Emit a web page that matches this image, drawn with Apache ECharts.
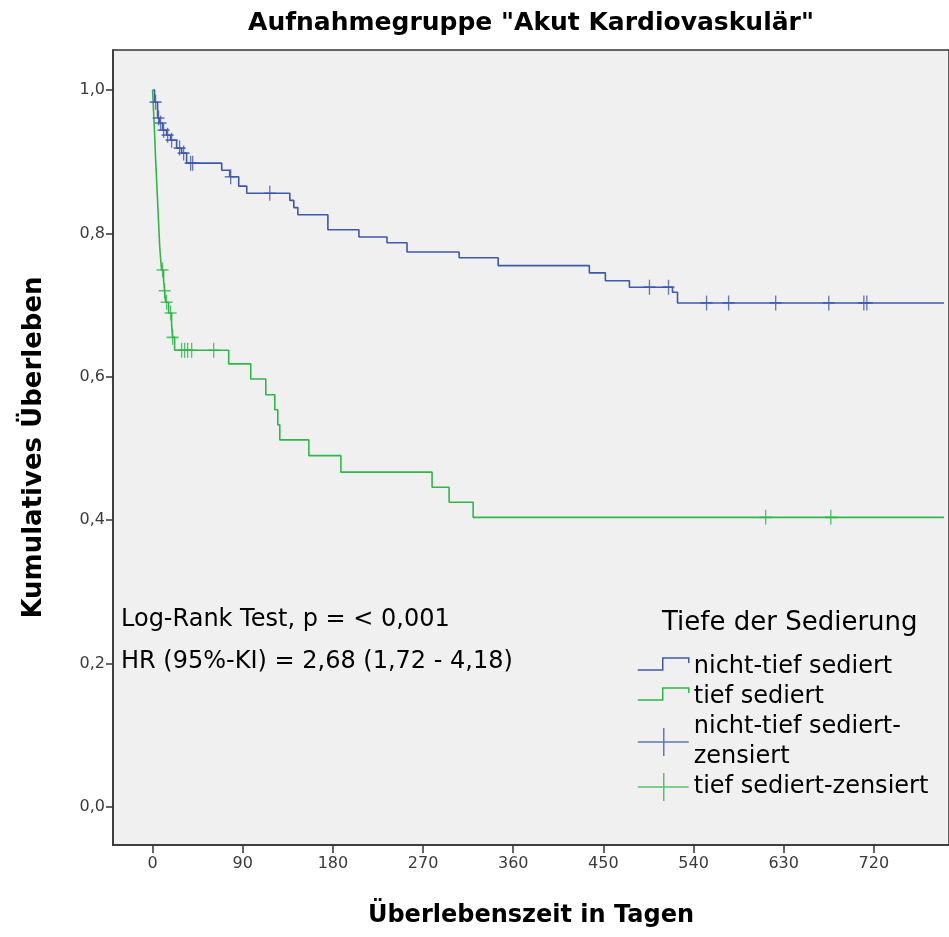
<!DOCTYPE html>
<html>
<head>
<meta charset="utf-8">
<script src="https://cdn.jsdelivr.net/npm/echarts@6/dist/echarts.min.js"></script>
<style>
html,body{margin:0;padding:0;background:#fff;}
#chart{width:949px;height:937px;}
</style>
</head>
<body>
<div id="chart"></div>
<script>
// ---- Data (days, cumulative survival) ----
const xTickLabels = [0, 90, 180, 270, 360, 450, 540, 630, 720];
const yTickLabels = [0, 0.2, 0.4, 0.6, 0.8, 1.0];

const blueSteps = [
  [0,1.0],[2,0.983],[5,0.961],[7,0.954],[10,0.944],[14,0.937],[18,0.930],[24,0.919],[29,0.912],[34,0.898],
  [69,0.888],[77,0.879],[86,0.866],[94,0.856],[137,0.846],[141,0.836],[145,0.826],[175,0.805],
  [206,0.795],[234,0.787],[254,0.774],[306,0.766],[345,0.755],[436,0.745],[452,0.734],[476,0.725],
  [519,0.718],[524,0.703],[790,0.703]
];
const blueCensored = [
  [3,0.983],[6,0.961],[8,0.954],[11,0.944],[15,0.937],[19,0.930],[27,0.919],[31,0.912],[38,0.898],[40,0.898],
  [78,0.879],[117,0.856],[496,0.725],[515,0.725],[553,0.703],[575,0.703],[622,0.703],[675,0.703],[710,0.703],[713,0.703]
];
const greenSteps = [
  [0,1.0],[1,0.97],[2,0.94],[3,0.905],[4,0.875],[5,0.845],[6,0.815],[7,0.785],[8,0.765],[9,0.749],
  [11,0.735],[12,0.72],[13,0.704],[16,0.689],[19,0.672],[20,0.655],[22,0.637],[76,0.618],[98,0.597],
  [113,0.575],[122,0.554],[125,0.533],[127,0.512],[156,0.490],[188,0.467],[279,0.446],[296,0.425],
  [320,0.404],[790,0.404]
];
const greenCensored = [
  [10,0.749],[12,0.720],[14,0.704],[18,0.689],[20,0.655],[29,0.637],[32,0.637],[35,0.637],[39,0.637],[61,0.637],
  [612,0.404],[677,0.404]
];

const seriesNames = ['nicht-tief sediert', 'tief sediert', 'nicht-tief sediert-\nzensiert', 'tief sediert-zensiert'];

const BLUE = '#3E58AC';
const GREEN = '#2EB848';
const AXIS = '#333333';
const FONT = "'DejaVu Sans', sans-serif";

const stepIcon = 'path://M0,0 M0,17 L25,17 L25,5 L51,5 L51,10 M51,28';
const plusIcon = 'path://M0,14 L51,14 M26,0 L26,28';
const plusSymbol = 'path://M0,6 L12,6 M6,0 L6,12';

const chart = echarts.init(document.getElementById('chart'));
chart.setOption({
  animation: false,
  backgroundColor: '#ffffff',
  grid: {
    left: 113, top: 50, width: 845, height: 795,
    show: true, backgroundColor: '#F0F0F0', borderColor: AXIS, borderWidth: 1.5,
    containLabel: false
  },
  xAxis: {
    type: 'value', min: -39.5, max: 795,
    name: 'Überlebenszeit in Tagen', nameLocation: 'middle', nameGap: 59,
    nameTextStyle: { fontFamily: FONT, fontWeight: 'bold', fontSize: 24, color: '#000' },
    axisLine: { show: true, onZero: false, lineStyle: { color: AXIS, width: 1.5 } },
    axisTick: { show: true, length: 8, lineStyle: { color: AXIS, width: 1.5 }, customValues: xTickLabels },
    axisLabel: { customValues: xTickLabels, margin: 11, fontFamily: FONT, fontSize: 16, color: '#3a3a3a' },
    splitLine: { show: false }
  },
  yAxis: {
    type: 'value', min: -0.053, max: 1.0558,
    name: 'Kumulatives Überleben', nameLocation: 'middle', nameGap: 66, nameRotate: 90,
    nameTextStyle: { fontFamily: FONT, fontWeight: 'bold', fontSize: 26, color: '#000' },
    axisLine: { show: true, onZero: false, lineStyle: { color: AXIS, width: 1.5 } },
    axisTick: { show: true, length: 7, lineStyle: { color: AXIS, width: 1.5 }, customValues: yTickLabels },
    axisLabel: {
      customValues: yTickLabels, margin: 8, fontFamily: FONT, fontSize: 16, color: '#3a3a3a',
      formatter: v => v.toFixed(1).replace('.', ',')
    },
    splitLine: { show: false }
  },
  legend: {
    orient: 'vertical', left: 637, top: 652, itemGap: 0, itemWidth: 51, itemHeight: 28,
    selectedMode: false, padding: 0,
    textStyle: { fontFamily: FONT, fontSize: 24, color: '#000', lineHeight: 30, padding: [0, 0, 0, 0] },
    data: [
      { name: seriesNames[0], icon: stepIcon, itemStyle: { color: 'rgba(0,0,0,0)', borderColor: BLUE, borderWidth: 1.5 } },
      { name: seriesNames[1], icon: stepIcon, itemStyle: { color: 'rgba(0,0,0,0)', borderColor: GREEN, borderWidth: 1.5 } },
      { name: seriesNames[2], icon: plusIcon, itemStyle: { color: 'rgba(0,0,0,0)', borderColor: BLUE, borderWidth: 1.5 } },
      { name: seriesNames[3], icon: plusIcon, itemStyle: { color: 'rgba(0,0,0,0)', borderColor: GREEN, borderWidth: 1.5 } }
    ]
  },
  graphic: [
    { type: 'text', x: 531, y: 23, style: { text: 'Aufnahmegruppe "Akut Kardiovaskulär"', font: "bold 25px " + FONT, fill: '#000', align: 'center', verticalAlign: 'middle' } },
    { type: 'text', x: 121, y: 620, style: { text: 'Log-Rank Test, p = < 0,001', font: "24px " + FONT, fill: '#000', align: 'left', verticalAlign: 'middle' } },
    { type: 'text', x: 121, y: 662, style: { text: 'HR (95%-KI) = 2,68 (1,72 - 4,18)', font: "24px " + FONT, fill: '#000', align: 'left', verticalAlign: 'middle' } },
    { type: 'text', x: 662, y: 623, style: { text: 'Tiefe der Sedierung', font: "26px " + FONT, fill: '#000', align: 'left', verticalAlign: 'middle' } }
  ],
  series: [
    { name: seriesNames[0], type: 'line', step: 'end', data: blueSteps, symbol: 'none', lineStyle: { color: BLUE, width: 1.6 }, itemStyle: { color: BLUE }, z: 3 },
    { name: seriesNames[1], type: 'line', step: 'end', data: greenSteps, symbol: 'none', lineStyle: { color: GREEN, width: 1.6 }, itemStyle: { color: GREEN }, z: 3 },
    { name: seriesNames[2], type: 'scatter', data: blueCensored, symbol: plusSymbol, symbolSize: [12, 15],
      itemStyle: { color: 'rgba(0,0,0,0)', borderColor: BLUE, borderWidth: 1.5 }, z: 4 },
    { name: seriesNames[3], type: 'scatter', data: greenCensored, symbol: plusSymbol, symbolSize: [12, 15],
      itemStyle: { color: 'rgba(0,0,0,0)', borderColor: GREEN, borderWidth: 1.5 }, z: 4 }
  ]
});
</script>
</body>
</html>
